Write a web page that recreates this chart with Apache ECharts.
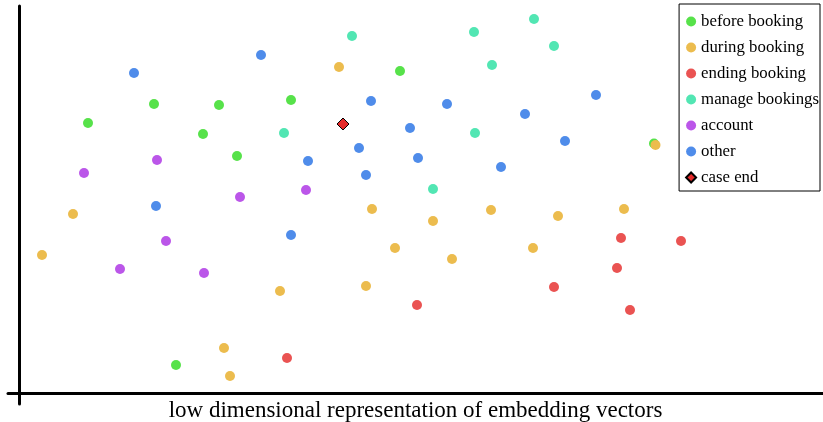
<!DOCTYPE html>
<html>
<head>
<meta charset="utf-8">
<script src="https://cdn.jsdelivr.net/npm/echarts@6/dist/echarts.min.js"></script>
<style>
html,body{margin:0;padding:0;background:#fff;}
#chart{width:823px;height:422px;}
</style>
</head>
<body>
<div id="chart"></div>
<script>
// Values (2-D embedding coordinates, arbitrary units)
const beforeBooking = [[69,270],[135,289],[200,288],[184,259],[218,237],[272,293],[381,322],[635,249.5],[157,28]];
const duringBooking = [[320,326],[54,179],[23,138],[261,102],[205,45],[211,17],[353,184],[414,172],[472,183],[376,145],[433,134],[347,107],[514,145],[539,177],[605,184],[636.5,248]];
const endingBooking = [[398,88],[268,35],[602,155],[662,152],[598,125],[535,106],[611,83]];
const manageBookings = [[333,357],[455,361],[515,374],[473,328],[535,347],[265,260],[456,260],[414,204]];
const account = [[65,220],[138,233],[221,196],[287,203],[147,152],[101,124],[185,120]];
const other = [[115,320],[242,338],[352,292],[428,289],[391,265],[340,245],[289,232],[399,235],[347,218],[506,279],[482,226],[577,298],[546,252],[137,187],[272,158]];
const caseEnd = [[324,269]];

const seriesNames = ['before booking','during booking','ending booking','manage bookings','account','other','case end'];
const seriesData = [beforeBooking, duringBooking, endingBooking, manageBookings, account, other, caseEnd];
const colors = ['#57e24a','#ecbc4e','#ea5352','#52e6b3','#bb56e9','#4f8cea','#e52a2a'];

const font = "'Liberation Serif','Times New Roman',serif";

const chart = echarts.init(document.getElementById('chart'), null, {renderer:'canvas'});

const series = seriesNames.map((name, i) => {
  const isEnd = name === 'case end';
  return {
    name: name,
    type: 'scatter',
    data: seriesData[i],
    symbol: isEnd ? 'diamond' : 'circle',
    symbolSize: isEnd ? 12 : 10,
    itemStyle: isEnd
      ? {color: colors[i], borderColor: '#000', borderWidth: 1, opacity: 1}
      : {color: colors[i], opacity: 1},
    z: isEnd ? 5 : 2,
    emphasis: {disabled: true}
  };
});

chart.setOption({
  animation: false,
  backgroundColor: '#fff',
  grid: {left: 8, right: 0, top: 6, bottom: 18, containLabel: false, outerBoundsMode: 'none'},
  xAxis: {
    type: 'value', min: -11, max: 804,
    name: 'low dimensional representation of embedding vectors',
    nameLocation: 'middle', nameGap: -5,
    nameTextStyle: {fontFamily: font, fontSize: 23, lineHeight: 23, color: '#000', padding: [0,0,0,0]},
    axisLine: {show: true, onZero: true, lineStyle: {color: '#000', width: 3}},
    axisTick: {show: false}, axisLabel: {show: false}, splitLine: {show: false}
  },
  yAxis: {
    type: 'value', min: -11, max: 387,
    axisLine: {show: true, onZero: true, lineStyle: {color: '#000', width: 3}},
    axisTick: {show: false}, axisLabel: {show: false}, splitLine: {show: false}
  },
  legend: {
    orient: 'vertical', right: 3, top: 4,
    data: seriesNames.map((n, i) => ({name: n, icon: n === 'case end' ? 'diamond' : 'circle'})),
    itemWidth: 10, itemHeight: 10, itemGap: 9,
    padding: [9, 1, 5, 6],
    borderColor: '#000', borderWidth: 1, backgroundColor: '#fff',
    textStyle: {fontFamily: font, fontSize: 16.8, color: '#000'},
    selectedMode: false
  },
  series: series
});
</script>
</body>
</html>
